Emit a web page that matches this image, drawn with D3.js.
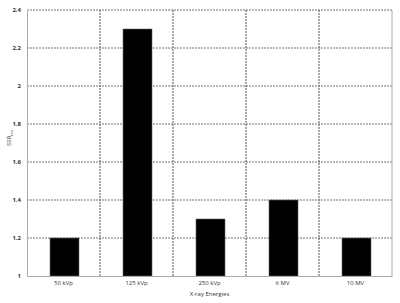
<!DOCTYPE html>
<html>
<head>
<meta charset="utf-8">
<script src="https://cdn.jsdelivr.net/npm/d3@7"></script>
<style>
body { margin: 0; background: #fff; }
svg text { font-family: "Open Sans", "Liberation Sans", sans-serif; fill: #333; }
</style>
</head>
<body>
<div id="chart"></div>
<script>
var energies = ["50 kVp", "125 kVp", "250 kVp", "6 MV", "10 MV"];
var ssrValues = [1.2, 2.3, 1.3, 1.4, 1.2];
var yTicks = [1, 1.2, 1.4, 1.6, 1.8, 2, 2.2, 2.4];

var margin = {top: 10, right: 8, bottom: 27, left: 27},
    width = 400 - margin.left - margin.right,
    height = 303 - margin.top - margin.bottom;

var svg = d3.select("#chart")
    .append("svg")
    .attr("width", 400)
    .attr("height", 303)
    .append("g")
    .attr("transform", "translate(" + margin.left + "," + margin.top + ")");

var x = d3.scaleBand()
    .domain(energies)
    .range([0, width])
    .paddingInner(0)
    .paddingOuter(0);

var y = d3.scaleLinear()
    .domain([1, 2.4])
    .range([height, 0]);

// horizontal grid
svg.append("g")
    .selectAll("line")
    .data(yTicks.slice(1))
    .enter()
    .append("line")
    .attr("x1", 0)
    .attr("x2", width)
    .attr("y1", function(d) { return y(d) })
    .attr("y2", function(d) { return y(d) })
    .attr("stroke", "#777")
    .attr("stroke-width", 1)
    .style("stroke-dasharray", "2,1");

// vertical grid between categories
svg.append("g")
    .selectAll("line")
    .data(energies.slice(1))
    .enter()
    .append("line")
    .attr("x1", function(d) { return x(d) })
    .attr("x2", function(d) { return x(d) })
    .attr("y1", 0)
    .attr("y2", height)
    .attr("stroke", "#555")
    .attr("stroke-width", 1)
    .style("stroke-dasharray", "2,1");

// right edge
svg.append("line")
    .attr("x1", width).attr("x2", width)
    .attr("y1", 0).attr("y2", height)
    .attr("stroke", "#aaa");

var barW = 29;
svg.append("g")
    .selectAll("rect")
    .data(ssrValues)
    .enter()
    .append("rect")
    .attr("x", function(d, i) { return x(energies[i]) + x.bandwidth() / 2 - barW / 2 + 1 })
    .attr("y", function(d) { return y(d) })
    .attr("width", barW)
    .attr("height", function(d) { return height - y(d) })
    .attr("fill", "#000")
    .attr("stroke", "#666")
    .attr("stroke-width", 0.6);

var yAxis = svg.append("g")
    .call(d3.axisLeft(y).tickValues(yTicks).tickSize(0).tickPadding(6)
        .tickFormat(function(d) { return String(d) }));
yAxis.select(".domain").attr("stroke", "#aaa");
yAxis.selectAll("text").style("font-size", "6px").style("font-weight", "bold").attr("fill", "#333");

var xAxis = svg.append("g")
    .attr("transform", "translate(0," + height + ")")
    .call(d3.axisBottom(x).tickSize(0).tickPadding(5));
xAxis.select(".domain").attr("stroke", "#aaa");
xAxis.selectAll("text").style("font-size", "6px").attr("fill", "#333");

svg.append("text")
    .attr("text-anchor", "middle")
    .attr("x", width / 2)
    .attr("y", height + 20)
    .style("font-size", "6px")
    .text("X-ray Energies");

var yl = svg.append("text")
    .attr("text-anchor", "middle")
    .attr("transform", "translate(-16," + (height / 2 - 5) + ") rotate(-90)")
    .style("font-size", "6px");
yl.append("tspan").text("SSR");
yl.append("tspan").attr("dy", 1.5).style("font-size", "4px").text("ms");
</script>
</body>
</html>
